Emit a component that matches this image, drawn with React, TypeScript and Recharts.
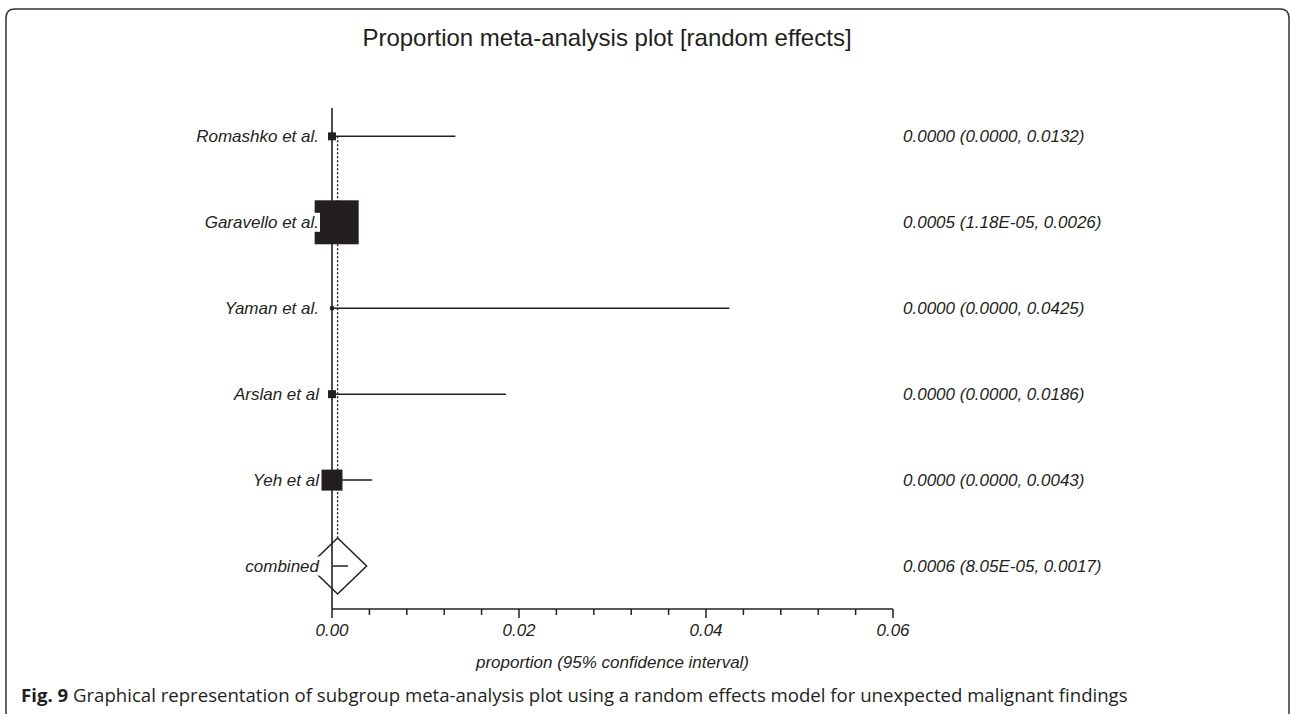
import { ComposedChart, Scatter, ErrorBar, XAxis, YAxis, ReferenceLine, Label } from 'recharts'

// forest plot: proportion meta-analysis, random effects
const STUDIES = ['Romashko et al.', 'Garavello et al.', 'Yaman et al.', 'Arslan et al', 'Yeh et al']
const ESTIMATES = [0, 0.0005, 0, 0, 0]
const LOWER = [0, 0.0000118, 0, 0, 0]
const UPPER = [0.0132, 0.0026, 0.0425, 0.0186, 0.0043]
const WEIGHTS = [2.5, 76.8, 0.6, 2.5, 17.5] // % weight
const RESULTS = [
  '0.0000 (0.0000, 0.0132)',
  '0.0005 (1.18E-05, 0.0026)',
  '0.0000 (0.0000, 0.0425)',
  '0.0000 (0.0000, 0.0186)',
  '0.0000 (0.0000, 0.0043)',
]

const POOLED_LABEL = 'combined'
const POOLED = [0.0006]
const POOLED_LOWER = [0.0000805]
const POOLED_UPPER = [0.0017]
const POOLED_RESULT = '0.0006 (8.05E-05, 0.0017)'

const X_TICKS = [0, 0.004, 0.008, 0.012, 0.016, 0.02, 0.024, 0.028, 0.032, 0.036, 0.04, 0.044, 0.048, 0.052, 0.056, 0.06]
const X_MAJOR = [0, 0.02, 0.04, 0.06]

const ROW_LABELS = [...STUDIES, POOLED_LABEL]
const ROW_RESULTS = [...RESULTS, POOLED_RESULT]
const ROWS = ROW_LABELS.map((_, i) => i)

const studyData = STUDIES.map((name, i) => ({
  name,
  x: ESTIMATES[i],
  y: i,
  ci: [ESTIMATES[i] - LOWER[i], UPPER[i] - ESTIMATES[i]],
  weight: WEIGHTS[i],
}))

const pooledData = POOLED.map((v, i) => ({
  x: v,
  y: STUDIES.length + i,
  ci: [v - POOLED_LOWER[i], POOLED_UPPER[i] - v],
}))

// one row per label, only so the right-hand axis has something bound to it
const rowData = ROWS.map((r) => ({ x: 0, y: r }))

const INK = '#231f20'
const SANS = '"Liberation Sans", Arial, Helvetica, sans-serif'

function StudyBox(props: any) {
  const { cx, cy, payload } = props
  const s = Math.sqrt(payload.weight) * 5.02
  return <rect x={cx - s / 2} y={cy - s / 2} width={s} height={s} fill={INK} />
}

function Diamond(props: any) {
  const { cx, cy } = props
  return (
    <path
      d={`M${cx},${cy - 28} L${cx + 29},${cy} L${cx},${cy + 28} L${cx - 29},${cy} Z`}
      fill="none"
      stroke={INK}
      strokeWidth={1.5}
    />
  )
}

const Nothing = () => <g />

function LeftTick(props: any) {
  const { x, y, payload } = props
  return (
    <g>
      <rect x={x - 12 - 150} y={y - 9.5} width={150} height={19} fill="#fff" />
      <text x={x - 13} y={y + 6} textAnchor="end" fontFamily={SANS} fontStyle="italic" fontSize={17} fill={INK}>
        {ROW_LABELS[payload.value]}
      </text>
    </g>
  )
}

function RightTick(props: any) {
  const { x, y, payload } = props
  return (
    <text x={x + 10} y={y + 6} textAnchor="start" fontFamily={SANS} fontStyle="italic" fontSize={17} fill={INK}>
      {ROW_RESULTS[payload.value]}
    </text>
  )
}

function BottomTick(props: any) {
  const { x, y, payload } = props
  const major = X_MAJOR.includes(payload.value)
  return (
    <g>
      <line x1={x} x2={x} y1={y} y2={y + (major ? 9 : 6)} stroke={INK} strokeWidth={1.5} />
      {major && (
        <text x={x} y={y + 27} textAnchor="middle" fontFamily={SANS} fontStyle="italic" fontSize={17} fill={INK}>
          {Number(payload.value).toFixed(2)}
        </text>
      )}
    </g>
  )
}

function AxisTitle(props: any) {
  const vb = props.viewBox
  return (
    <text x={vb.x + vb.width / 2} y={vb.y + 59} textAnchor="middle" fontFamily={SANS} fontStyle="italic" fontSize={17} fill={INK}>
      proportion (95% confidence interval)
    </text>
  )
}

export default function App() {
  return (
    <div style={{ position: 'absolute', left: 0, top: 0, width: 1290, height: 714, overflow: 'hidden', background: '#fff' }}>
      <svg width={1290} height={714} style={{ position: 'absolute', left: 0, top: 0 }}>
        <path d="M6,730 L6,18 Q6,9 15,9 L1280,9 Q1289,9 1289,18 L1289,730" fill="none" stroke="#333" strokeWidth={1.5} />
        <text x={607} y={46} textAnchor="middle" fontFamily={SANS} fontSize={24} fill={INK}>
          Proportion meta-analysis plot [random effects]
        </text>
        <text x={21} y={702} fontFamily='"Open Sans", sans-serif' fontSize={18.6} fill={INK}>
          <tspan fontWeight="bold">Fig. 9</tspan> Graphical representation of subgroup meta-analysis plot using a random effects model for unexpected malignant findings
        </text>
      </svg>
      <div style={{ position: 'absolute', left: 0, top: 0 }}>
        <ComposedChart width={1290} height={714} margin={{ top: 108, right: 337, bottom: 0, left: 272 }}>
          <XAxis
            type="number"
            dataKey="x"
            domain={[0, 0.06]}
            ticks={X_TICKS}
            interval={0}
            height={105}
            tickSize={0}
            tickMargin={0}
            tickLine={false}
            tick={<BottomTick />}
            axisLine={{ stroke: INK, strokeWidth: 1.6 }}
          >
            <Label content={<AxisTitle />} />
          </XAxis>
          <YAxis
            yAxisId="right"
            orientation="right"
            type="number"
            dataKey="y"
            domain={[-0.33, 5.5]}
            reversed
            ticks={ROWS}
            interval={0}
            width={60}
            tickSize={0}
            tickMargin={0}
            tickLine={false}
            axisLine={false}
            tick={<RightTick />}
          />
          <Scatter yAxisId="right" data={rowData} shape={<Nothing />} isAnimationActive={false} />
          <ReferenceLine
            yAxisId="left"
            segment={[{ x: POOLED[0], y: 0 }, { x: POOLED[0], y: STUDIES.length - 0.33 }]}
            stroke={INK}
            strokeWidth={1.4}
            strokeDasharray="2 2"
          />
          <Scatter yAxisId="left" data={studyData} shape={<StudyBox />} isAnimationActive={false}>
            <ErrorBar dataKey="ci" direction="x" width={0} stroke={INK} strokeWidth={1.5} isAnimationActive={false} />
          </Scatter>
          <Scatter yAxisId="left" data={pooledData} shape={<Diamond />} isAnimationActive={false}>
            <ErrorBar dataKey="ci" direction="x" width={0} stroke={INK} strokeWidth={1.5} isAnimationActive={false} />
          </Scatter>
          <YAxis
            yAxisId="left"
            type="number"
            dataKey="y"
            domain={[-0.33, 5.5]}
            reversed
            ticks={ROWS}
            interval={0}
            width={60}
            tickSize={0}
            tickMargin={0}
            tickLine={false}
            tick={<LeftTick />}
            axisLine={{ stroke: INK, strokeWidth: 1.6 }}
          />
        </ComposedChart>
      </div>
    </div>
  )
}
